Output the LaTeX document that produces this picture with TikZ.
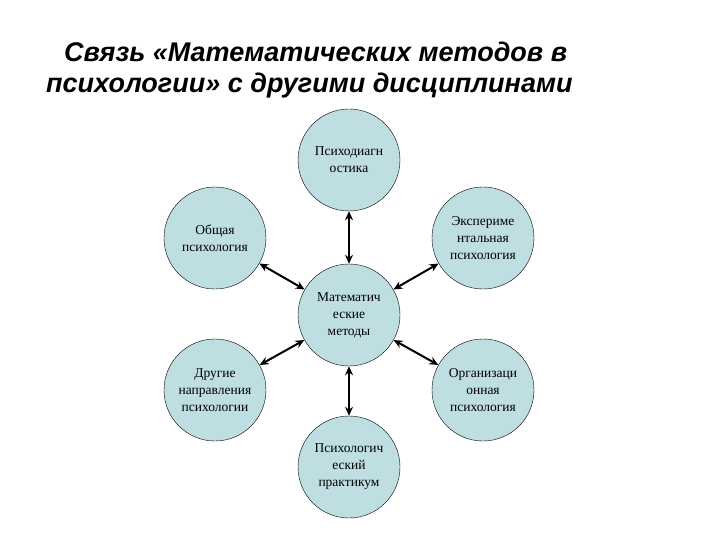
\documentclass[tikz,border=0pt]{standalone}
\usepackage{fontspec}
\setmainfont{Liberation Serif}
\newfontfamily\titlefont{Liberation Sans}
\usetikzlibrary{arrows.meta}
\definecolor{cfill}{RGB}{190,222,226}
\tikzset{
  bub/.style={circle,draw=black,fill=cfill,minimum size=102pt,inner sep=0pt,align=center,font=\fontsize{13.5}{17}\selectfont},
  link/.style={{Stealth[length=9pt,width=8pt]}-{Stealth[length=9pt,width=8pt]},line width=2pt},
  ttl/.style={font=\titlefont\bfseries\itshape\fontsize{27}{30}\selectfont,anchor=west,inner sep=0pt}
}
\begin{document}
\begin{tikzpicture}[x=1pt,y=-1pt]
\useasboundingbox (0,0) rectangle (720,540);
\node[ttl] (t1) at (64,52) {Связь «Математических методов в};
\node[ttl] (t2) at (46,86) {психологии» с другими дисциплинами};
\node[bub] (c) at (349,315) {Математич\\еские\\методы};
\node[bub] (t) at (349,160) {Психодиагн\\остика};
\node[bub] (l) at (215,238) {Общая\\психология};
\node[bub] (r) at (483,238) {Экспериме\\нтальная\\психология};
\node[bub] (ll) at (215,390) {Другие\\направления\\психологии};
\node[bub] (lr) at (483,390) {Организаци\\онная\\психология};
\node[bub] (b) at (349,467) {Психологич\\еский\\практикум};
\draw[link] (c) -- (t);
\draw[link] (c) -- (l);
\draw[link] (c) -- (r);
\draw[link] (c) -- (ll);
\draw[link] (c) -- (lr);
\draw[link] (c) -- (b);
\end{tikzpicture}
\end{document}
